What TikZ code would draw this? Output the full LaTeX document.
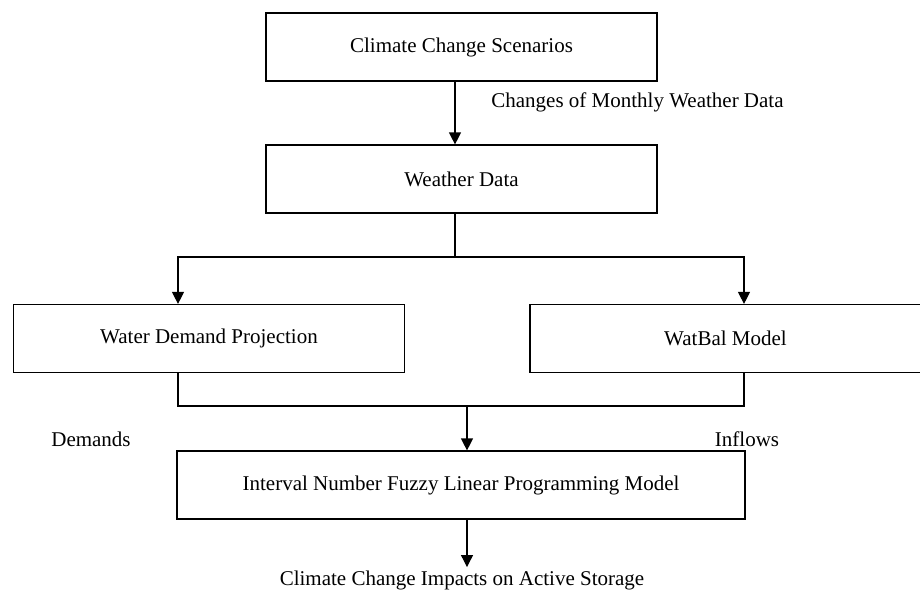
\documentclass[tikz,border=0pt]{standalone}
\usepackage{fontspec}
\setmainfont{Liberation Serif}
\usetikzlibrary{arrows.meta}

\begin{document}
\begin{tikzpicture}[x=0.5pt, y=-0.5pt, >={Triangle[length=6pt,width=6pt]}]
	\tikzstyle{format} = [draw, line width=0.6pt, rectangle, minimum width=195.5pt,
	minimum height=34pt, inner sep=0pt, font=\fontsize{10.5}{12}\selectfont]
	\tikzstyle{lbl} = [inner sep=0pt, font=\fontsize{10.5}{12}\selectfont]
	\useasboundingbox (0,0) rectangle (920,590);
	% boxes
	\path
		node[format] (scen) at (461.5,47) {Climate Change Scenarios}
		node[format] (wdata) at (461.5,179) {Weather Data}
		node[format] (demand) at (209,338.5) {Water Demand Projection}
		node[format] (watbal) at (725.5,338.5) {WatBal Model}
		node[format, minimum width=284pt] (lp) at (461,485) {Interval Number Fuzzy Linear Programming Model}
		node[lbl, anchor=west] (chg) at (491,102) {Changes of Monthly Weather Data}
		node[lbl] (dem) at (91,439) {Demands}
		node[lbl] (inf) at (747,439) {Inflows}
		node[lbl, inner sep=1.5pt, anchor=base] (impact) at (462,585) {Climate Change Impacts on Active Storage};
	\coordinate (split) at (455,257);
	\coordinate (merge) at (467,406);
	% connectors
	\begin{scope}[line width=0.6pt]
		\draw[->] ([xshift=-3.25pt]scen.south) -- ([xshift=-3.25pt]wdata.north);
		\draw ([xshift=-3.25pt]wdata.south) -- (split);
		\draw[->] (split) -| ([xshift=-15.5pt]demand.north);
		\draw[->] (split) -| ([xshift=9.25pt]watbal.north);
		\draw ([xshift=-15.5pt]demand.south) |- (merge) -| ([xshift=9.25pt]watbal.south);
		\draw[->] (merge) -- (merge |- lp.north);
		\draw[->] (lp.south -| merge) -- (impact.north -| merge);
	\end{scope}
\end{tikzpicture}
\end{document}
